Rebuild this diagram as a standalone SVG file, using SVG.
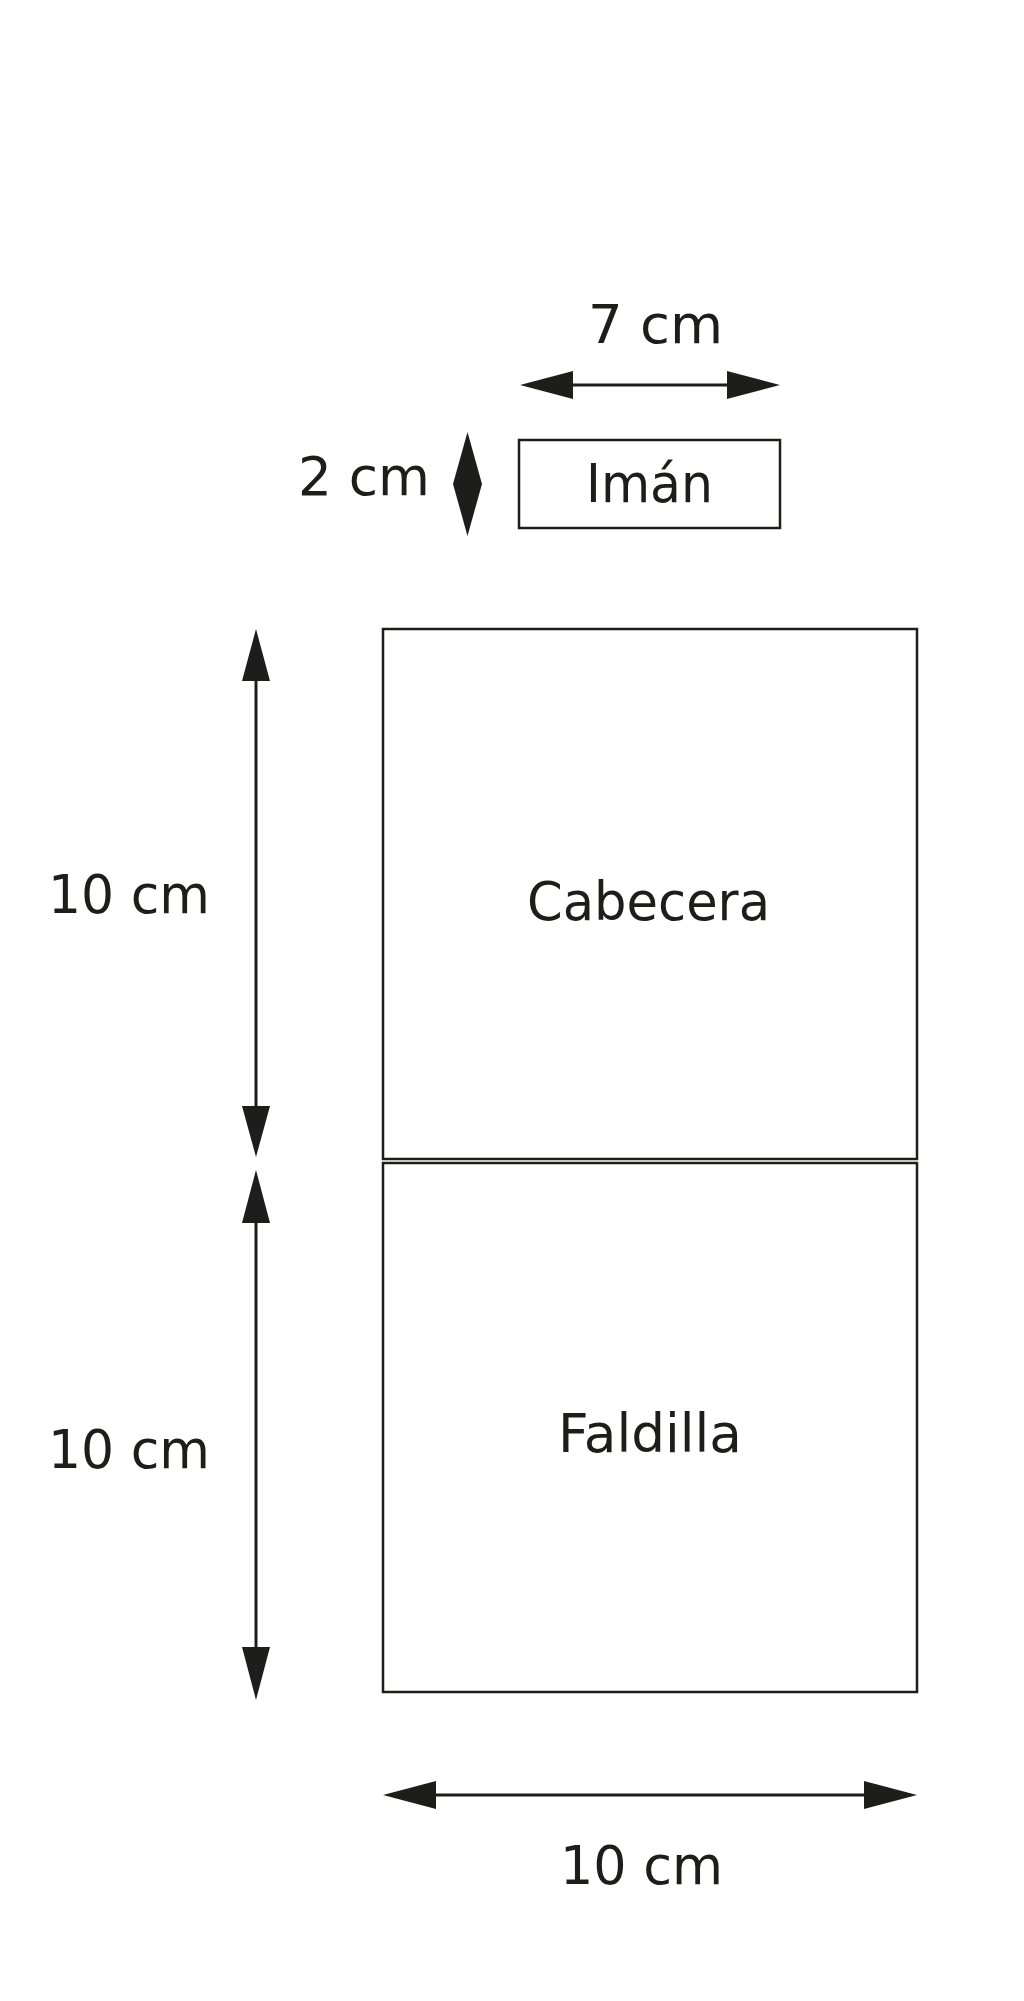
<svg xmlns="http://www.w3.org/2000/svg" width="1024" height="2001" viewBox="0 0 1024 2001">
<style>
.box{fill:none;stroke:#1d1d1b;stroke-width:2.5}
.dim{fill:none;stroke:#1d1d1b;stroke-width:3}
.head{fill:#1d1d1b;stroke:none}
.t{font-family:"DejaVu Sans","Noto Sans",sans-serif;fill:#1d1d1b;font-size:54px}
</style>
<rect width="1024" height="2001" fill="#ffffff"/>
<g id="iman">
<rect class="box" x="519" y="440" width="261" height="88"/>
<text class="t" x="586" y="502" font-size="48" textLength="127" lengthAdjust="spacingAndGlyphs">Imán</text>
</g>
<g id="cabecera">
<rect class="box" x="383" y="629" width="534" height="530"/>
<text class="t" x="527" y="920" textLength="243" lengthAdjust="spacingAndGlyphs">Cabecera</text>
</g>
<g id="faldilla">
<rect class="box" x="383" y="1163" width="534" height="529"/>
<text class="t" x="558" y="1452" textLength="184" lengthAdjust="spacingAndGlyphs">Faldilla</text>
</g>
<g id="connectors">
<line class="dim" x1="570" y1="385" x2="730" y2="385"/>
<polygon class="head" points="520,385 573,371 573,399"/>
<polygon class="head" points="780,385 727,371 727,399"/>
<polygon class="head" points="467.5,432 482,484 467.5,536 453,484"/>
<line class="dim" x1="256" y1="678" x2="256" y2="1109"/>
<polygon class="head" points="256,629 270,681 242,681"/>
<polygon class="head" points="256,1157 270,1106 242,1106"/>
<line class="dim" x1="256" y1="1220" x2="256" y2="1650"/>
<polygon class="head" points="256,1170 270,1223 242,1223"/>
<polygon class="head" points="256,1700 270,1647 242,1647"/>
<line class="dim" x1="433" y1="1795" x2="867" y2="1795"/>
<polygon class="head" points="383,1795 436,1781 436,1809"/>
<polygon class="head" points="917,1795 864,1781 864,1809"/>
</g>
<g id="labels">
<text class="t" x="588" y="343" textLength="135" lengthAdjust="spacingAndGlyphs">7 cm</text>
<text class="t" x="298" y="495" font-size="51" textLength="132" lengthAdjust="spacingAndGlyphs">2 cm</text>
<text class="t" x="48" y="913" textLength="162" lengthAdjust="spacingAndGlyphs">10 cm</text>
<text class="t" x="48" y="1468" textLength="162" lengthAdjust="spacingAndGlyphs">10 cm</text>
<text class="t" x="560" y="1884" textLength="163" lengthAdjust="spacingAndGlyphs">10 cm</text>
</g>
</svg>
